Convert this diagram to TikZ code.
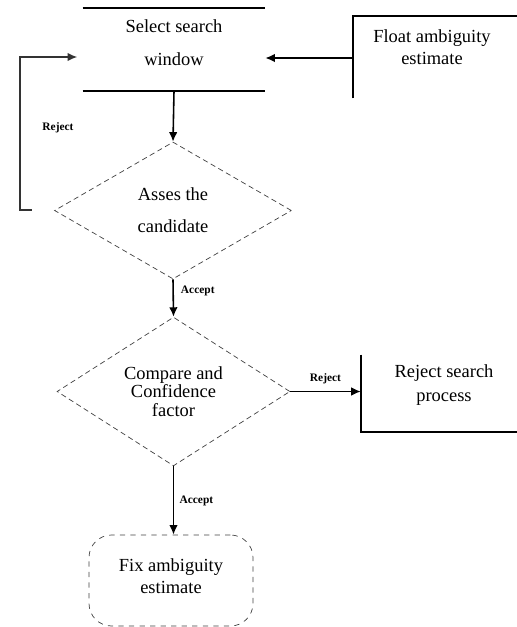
\documentclass[tikz,border=0pt]{standalone}
\usepackage{fontspec}
\setmainfont{Liberation Serif}
\usetikzlibrary{shapes.geometric}
\usetikzlibrary{arrows.meta}

\begin{document}
\begin{tikzpicture}[x=0.02cm,y=-0.02cm,
  txt/.style={font=\fontsize{10.5}{12.5}\selectfont,align=center,inner sep=0pt},
  lbl/.style={font=\fontsize{6.5}{7}\selectfont\bfseries,inner sep=0pt},
  frame/.style={rectangle,draw=none,inner sep=0pt},
  decide/.style={diamond,draw=black!75,densely dashed,thin,inner sep=0pt,
    font=\fontsize{10.5}{12.5}\selectfont,align=center},
  flow/.style={-{Latex[length=1.9mm,width=1.7mm]},line width=0.9pt}]
\useasboundingbox (0,0) rectangle (517,627);

% select search window
\node[frame,minimum width=3.64cm,minimum height=1.66cm] (sel) at (174,49.5) {};
\draw[line width=1pt] (sel.north west) -- (sel.north east);
\draw[line width=1pt] (sel.south west) -- (sel.south east);
\node[txt] (seltxt) at (174,43) {Select search\\[2.2mm]window};

% float ambiguity estimate
\node[frame,minimum width=3.28cm,minimum height=1.64cm] (flt) at (435,57) {};
\draw[line width=1pt] (flt.south west) -- (flt.north west) -- (flt.north east);
\node[txt] (flttxt) at (432,47) {Float ambiguity\\estimate};
\draw[flow] (flt.west) ++(0,1) coordinate (fltin) -- (fltin -| sel.east);

% first check
\node[decide,minimum width=4.74cm,minimum height=2.74cm] (d1) at (173,210.5) {Asses the\\[2mm]candidate};
\draw[flow] (sel.south) -- (d1.north);

% loop back
\coordinate (fbs) at (32,210);
\coordinate (fbe) at (77,57);
\draw[-{Latex[length=1.9mm,width=1.7mm]},line width=0.6pt,black!80] (fbs) -- (20,210) |- (fbe);
\node[lbl] (rj1) at (58,128) {Reject};

% second check
\node[decide,minimum width=4.66cm,minimum height=2.94cm] (d2) at (173.5,391.5) {Compare and\\[-2pt]Confidence\\[-2pt]factor};
\draw[flow] (d1.south) -- node[lbl,right=4pt,pos=0.3] (ac1) {Accept} (d2.north);

% reject search process
\node[frame,minimum width=3.12cm,minimum height=1.54cm] (rej) at (439,393.5) {};
\draw[line width=1pt] (rej.north west) -- (rej.south west) -- (rej.south east);
\node[txt] (rejtxt) at (444,385) {Reject search\\[1pt]process};
\draw[-{Latex[length=1.9mm,width=1.7mm]},line width=0.6pt] (d2.east) -- (d2.east -| rej.west)
  node[lbl,midway,above=4pt] (rj2) {Reject};

% fix ambiguity estimate
\node[rectangle,draw=black!75,dashed,thin,rounded corners=0.45cm,minimum width=3.28cm,minimum height=1.82cm] (fix) at (171,580.5) {};
\node[txt] (fixtxt) at (171,576) {Fix ambiguity\\estimate};
\draw[flow] (d2.south) -- node[lbl,right=3pt] (ac2) {Accept} (d2.south |- fix.north);

\end{tikzpicture}
\end{document}
